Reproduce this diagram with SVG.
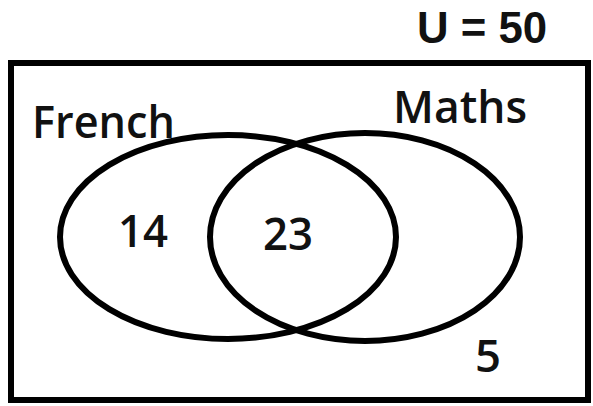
<svg xmlns="http://www.w3.org/2000/svg" width="593" height="406" viewBox="0 0 593 406">
<style>
.t{font-family:"Open Sans","Liberation Sans",sans-serif;font-weight:600;fill:#111;font-size:46px;}
.u{font-family:"Liberation Sans",Arial,sans-serif;font-weight:700;fill:#111;font-size:45px;}
.s{fill:none;stroke:#000;stroke-width:6;}
</style>
<rect width="593" height="406" fill="#fff"/>
<g id="universe">
<rect class="s" x="11" y="63" width="577" height="337"/>
<text class="u" x="417" y="43" textLength="130" lengthAdjust="spacingAndGlyphs">U = 50</text>
</g>
<g id="french">
<ellipse class="s" cx="228" cy="237" rx="168" ry="102"/>
<text class="t" x="32" y="138" textLength="143" lengthAdjust="spacingAndGlyphs">French</text>
</g>
<g id="maths">
<ellipse class="s" cx="365" cy="237" rx="155" ry="104"/>
<text class="t" x="393" y="123" textLength="134" lengthAdjust="spacingAndGlyphs">Maths</text>
</g>
<g id="labels">
<text class="t" x="118" y="247" textLength="50" lengthAdjust="spacingAndGlyphs">14</text>
<text class="t" x="263" y="250" textLength="50" lengthAdjust="spacingAndGlyphs">23</text>
<text class="t" x="475" y="372" textLength="26" lengthAdjust="spacingAndGlyphs">5</text>
</g>
</svg>
